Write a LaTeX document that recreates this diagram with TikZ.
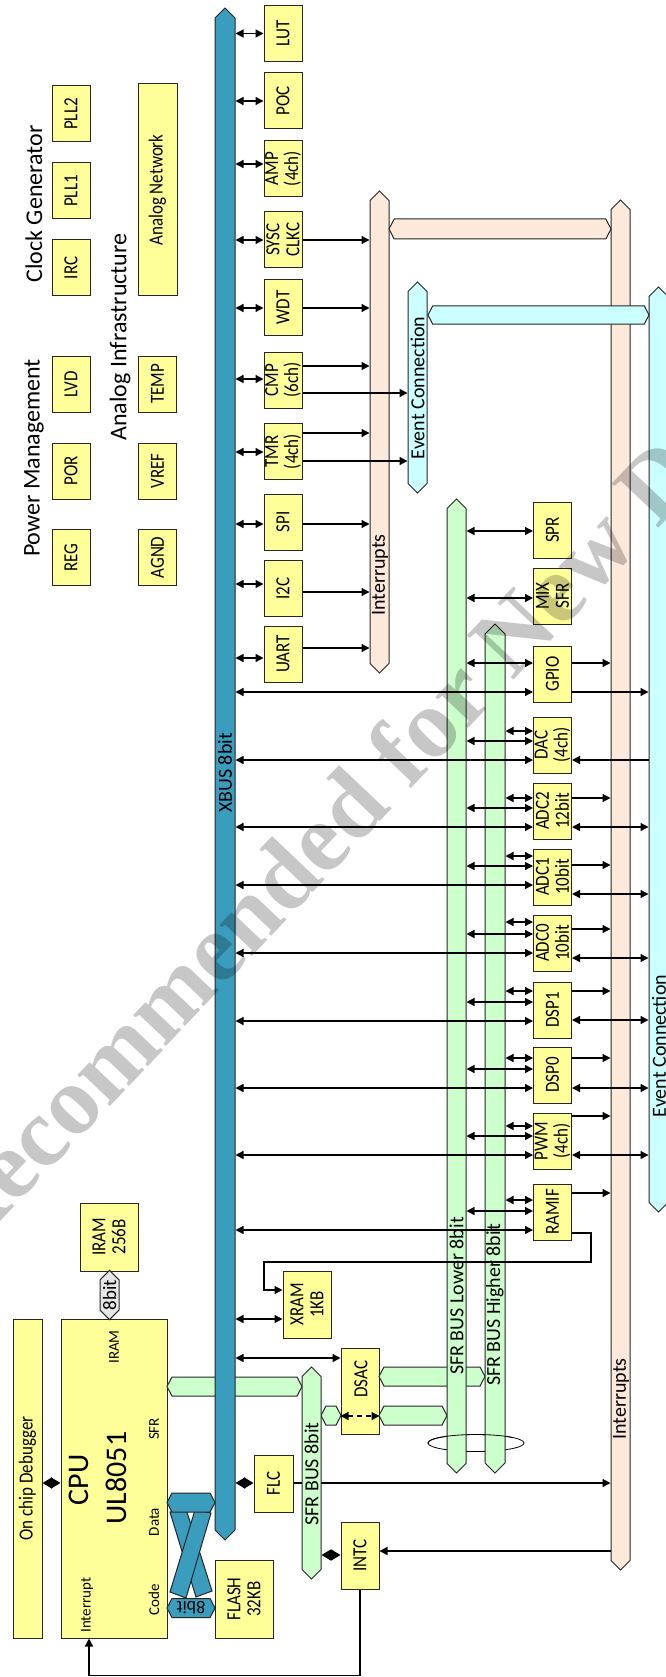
\documentclass[tikz,border=0pt]{standalone}
\usepackage{fontspec}
\setmainfont{Carlito}
\newfontfamily\boxfont{Carlito}[FakeStretch=0.85]
\newfontfamily\wmfont{Liberation Serif}
\usetikzlibrary{shapes.symbols,shapes.geometric,arrows.meta}
\definecolor{boxyellow}{HTML}{FFFF99}
\definecolor{xteal}{HTML}{3A9DBE}
\definecolor{busgreen}{HTML}{CCFFCC}
\definecolor{intpeach}{HTML}{FCE9DA}
\definecolor{evcyan}{HTML}{CCFFFF}
\definecolor{hexgray}{HTML}{E6E6E6}
\pgfdeclarelayer{back}
\pgfsetlayers{back,main}
\tikzset{
  blk/.style={draw=black!85, fill=boxyellow, line width=1pt, rotate=90,
    minimum width=56pt, minimum height=38pt, inner sep=0pt, align=center,
    font=\boxfont\fontsize{20}{20}\selectfont},
  vbus/.style={draw=black!85, line width=1pt, shape=signal, signal to=east and west,
    signal pointer angle=90, rotate=90, minimum height=19pt, inner sep=0pt,
    font=\fontsize{19}{20}\selectfont},
  hbus/.style={draw=black!85, line width=1pt, shape=signal, signal to=east and west,
    signal pointer angle=125, minimum height=19pt, inner sep=0pt,
    font=\fontsize{18}{20}\selectfont},
  buslbl/.style={rotate=90, inner sep=0pt, font=\fontsize{20}{22}\selectfont},
  headt/.style={rotate=90, inner sep=0pt, font=\fontsize{24}{26}\selectfont},
  smallt/.style={rotate=90, inner sep=0pt, font=\fontsize{15}{16}\selectfont},
  wire/.style={line width=1.3pt},
  arr/.style={wire, -{Triangle[length=8pt,width=8pt]}},
  dbl/.style={wire, {Triangle[length=8pt,width=8pt]}-{Triangle[length=8pt,width=8pt]}},
  dia/.style={wire, {Triangle[length=9.5pt,width=11pt]}-{Triangle[length=9.5pt,width=11pt]}},
}
\begin{document}
\begin{tikzpicture}[x=1pt,y=-1pt]
  \useasboundingbox (0,0) rectangle (665,1677);

  % Power, clock and analog blocks
  \node[headt] (clkhd) at (34,204) {Clock Generator};
  \node[headt] (pwrhd) at (34,458) {Power Management};
  \node[headt] (anahd) at (120,337) {Analog Infrastructure};
  \node[blk] (pll2) at (71,114) {PLL2};
  \node[blk] (pll1) at (71,191) {PLL1};
  \node[blk] (irc) at (71,268) {IRC};
  \node[blk] (lvd) at (71,384) {LVD};
  \node[blk] (por) at (71,471) {POR};
  \node[blk] (reg) at (71,557.5) {REG};
  \node[blk, minimum width=212pt, minimum height=39pt] (anet) at (157.5,190) {Analog Network};
  \node[blk] (temp) at (157.5,384) {TEMP};
  \node[blk] (vref) at (157.5,471) {VREF};
  \node[blk] (agnd) at (157.5,557.5) {AGND};

  % XBUS peripherals
  \node[blk] (lut) at (283,33.5) {LUT};
  \node[blk] (poc) at (283,101) {POC};
  \node[blk] (amp) at (283,168.5) {AMP\\(4ch)};
  \node[blk] (sysc) at (283,239.5) {SYSC\\CLKC};
  \node[blk] (wdt) at (283,307.5) {WDT};
  \node[blk] (cmp) at (283,380) {CMP\\(6ch)};
  \node[blk] (tmr) at (283,451.5) {TMR\\(4ch)};
  \node[blk] (spi) at (283,522) {SPI};
  \node[blk] (iic) at (283,588.5) {I2C};
  \node[blk] (uart) at (283,654) {UART};

  % SFR peripherals
  \node[blk] (spr) at (552.5,530) {SPR};
  \node[blk] (mix) at (552.5,596) {MIX\\SFR};
  \node[blk] (gpio) at (552.5,674) {GPIO};
  \node[blk] (dac) at (552.5,745) {DAC\\(4ch)};
  \node[blk] (adc2) at (552.5,811) {ADC2\\12bit};
  \node[blk] (adc1) at (552.5,877) {ADC1\\10bit};
  \node[blk] (adc0) at (552.5,943) {ADC0\\10bit};
  \node[blk] (dsp1) at (552.5,1010) {DSP1};
  \node[blk] (dsp0) at (552.5,1075) {DSP0};
  \node[blk] (pwm) at (552.5,1141) {PWM\\(4ch)};
  \node[blk] (ramif) at (552.5,1212) {RAMIF};

  % CPU corner
  \node[blk, minimum width=68pt, minimum height=58pt] (iram) at (109,1237) {IRAM\\256B};
  \node[blk, minimum width=67pt, minimum height=48pt] (xram) at (307,1304.5) {XRAM\\1KB};
  \node[blk, minimum width=86pt] (dsac) at (360,1391) {};
  \node[smallt, font=\boxfont\fontsize{20}{20}\selectfont] (dsactxt) at (361,1379) {DSAC};
  \node[blk, minimum width=57pt, minimum height=39pt] (flc) at (273.5,1483.5) {FLC};
  \node[blk, minimum width=67pt] (intc) at (360,1555.5) {INTC};
  \node[blk, minimum width=78pt, minimum height=58pt] (flash) at (244,1599) {FLASH\\32KB};
  \node[blk, minimum width=319pt, minimum height=29pt] (ocd) at (27.5,1478.5) {On chip Debugger};
  \node[blk, minimum width=319pt, minimum height=106pt] (cpu) at (114,1478.5) {};
  \node[rotate=90, inner sep=0pt, font=\fontsize{30}{32}\selectfont] (cpuname) at (79,1480) {CPU};
  \node[rotate=90, inner sep=0pt, font=\fontsize{30}{32}\selectfont] (cpucore) at (116,1478) {UL8051};
  \node[smallt] (lbiram) at (114,1347) {IRAM};
  \node[smallt] (lbsfr) at (154,1429) {SFR};
  \node[smallt] (lbdata) at (154,1522) {Data};
  \node[smallt] (lbcode) at (154,1600) {Code};
  \node[smallt] (lbint) at (87,1605) {Interrupt};

  % bundle ring, back half
  \begin{pgfonlayer}{back}
    \node[ellipse, draw, line width=0.8pt, minimum width=96pt, minimum height=17pt, inner sep=0pt] (bundle) at (476,1443) {};
  \end{pgfonlayer}

  % bands that pass under the buses
  \node[hbus, fill=busgreen, minimum width=135pt] (cpusfr) at (234.5,1386.5) {};
  \node[hbus, fill=busgreen, minimum width=106pt] (dsachi) at (432,1376.5) {};
  \node[hbus, fill=busgreen, minimum width=68pt] (dsaclo) at (413,1415.5) {};
  \node[hbus, fill=busgreen, minimum width=20pt] (sfrdsac) at (331,1415.5) {};

  % buses
  \node[vbus, fill=xteal, minimum width=1532pt, minimum height=20pt] (xbus) at (225,774) {};
  \node[vbus, fill=busgreen, minimum width=974pt] (sfrlo) at (456.5,986) {};
  \node[vbus, fill=busgreen, minimum width=849pt, minimum height=20pt] (sfrhi) at (495,1048.5) {};
  \node[vbus, fill=busgreen, minimum width=212pt] (sfr8) at (311.5,1473) {};
  \node[vbus, fill=intpeach, minimum width=482pt] (intl) at (379.5,432) {};
  \node[vbus, fill=evcyan, minimum width=211pt] (evl) at (417.5,387.5) {};
  \node[vbus, fill=intpeach, minimum width=1370pt] (intr) at (620.5,885) {};
  \node[vbus, fill=evcyan, minimum width=925pt] (evr) at (658.5,749.5) {};
  \node[hbus, fill=intpeach, minimum width=222pt, minimum height=20pt] (intband) at (500,229) {};
  \node[hbus, fill=evcyan, minimum width=221pt, minimum height=18pt] (evband) at (538.5,315) {};
  \node[vbus, fill=hexgray, minimum width=46pt] (irambus) at (109.5,1295) {8bit};

  % crossed code/data paths
  \filldraw[fill=xteal, draw=black!85, line width=1pt] (170,1512) -- (186,1509) -- (212,1591) -- (196,1597) -- cycle;
  \filldraw[fill=xteal, draw=black!85, line width=1pt] (195,1510) -- (211,1513) -- (186,1598) -- (170,1592) -- cycle;
  \node[hbus, fill=xteal, minimum width=48pt] (datahex) at (191,1502.5) {};
  \node[hbus, fill=xteal, minimum width=48pt, rotate=180] (codehex) at (191,1608) {8bit};

  % bus labels
  \node[buslbl] (xbuslbl) at (225,773) {XBUS 8bit};
  \node[buslbl] (intllbl) at (380,575) {Interrupts};
  \node[buslbl] (evllbl) at (417.5,388) {Event Connection};
  \node[buslbl] (intrlbl) at (621,1399) {Interrupts};
  \node[buslbl] (evrlbl) at (659,1046) {Event Connection};
  \node[buslbl] (sfrlolbl) at (456.5,1296) {SFR BUS Lower 8bit};
  \node[buslbl] (sfrhilbl) at (495,1305) {SFR BUS Higher 8bit};
  \node[buslbl] (sfr8lbl) at (311.5,1474) {SFR BUS 8bit};

  % bundle ring, front half
  \begin{scope}
    \clip ([xshift=-2pt]bundle.west) rectangle ([xshift=2pt,yshift=2pt]bundle.north east);
    \draw[line width=0.8pt] (bundle.center) ellipse [x radius=48pt, y radius=8.5pt];
  \end{scope}

  % XBUS links
  \draw[dbl] (xbus.south |- 0,33.5) -- (lut.north |- 0,33.5);
  \draw[dbl] (xbus.south |- 0,101) -- (poc.north |- 0,101);
  \draw[dbl] (xbus.south |- 0,164) -- (amp.north |- 0,164);
  \draw[dbl] (xbus.south |- 0,240) -- (sysc.north |- 0,240);
  \draw[dbl] (xbus.south |- 0,308) -- (wdt.north |- 0,308);
  \draw[dbl] (xbus.south |- 0,379) -- (cmp.north |- 0,379);
  \draw[dbl] (xbus.south |- 0,452) -- (tmr.north |- 0,452);
  \draw[dbl] (xbus.south |- 0,524) -- (spi.north |- 0,524);
  \draw[dbl] (xbus.south |- 0,584) -- (iic.north |- 0,584);
  \draw[dbl] (xbus.south |- 0,658) -- (uart.north |- 0,658);

  % interrupt and event outputs
  \draw[arr] (sysc.south |- 0,240) -- (intl.north |- 0,240);
  \draw[arr] (wdt.south |- 0,308) -- (intl.north |- 0,308);
  \draw[arr] (cmp.south |- 0,366) -- (intl.north |- 0,366);
  \draw[arr] (cmp.south |- 0,393) -- (evl.north |- 0,393);
  \draw[arr] (tmr.south |- 0,433) -- (intl.north |- 0,433);
  \draw[arr] (tmr.south |- 0,461) -- (evl.north |- 0,461);
  \draw[arr] (spi.south |- 0,524) -- (intl.north |- 0,524);
  \draw[arr] (iic.south |- 0,592) -- (intl.north |- 0,592);
  \draw[arr] (uart.south |- 0,648) -- (intl.north |- 0,648);

  % SFR side
  \draw[dbl] (sfrlo.south |- 0,531) -- (spr.north |- 0,531);
  \draw[dbl] (sfrlo.south |- 0,598) -- (mix.north |- 0,598);
  \draw[dbl] (sfrlo.south |- 0,663) -- (gpio.north |- 0,663);
  \draw[dbl] (xbus.south |- 0,692) -- (gpio.north |- 0,692);
  \draw[arr] (gpio.south |- 0,663) -- (intr.north |- 0,663);
  \draw[arr] (gpio.south |- 0,692) -- (evr.north |- 0,692);
  \draw[dbl] (sfrhi.south |- 0,731) -- (dac.north |- 0,731);
  \draw[dbl] (sfrlo.south |- 0,741) -- (dac.north |- 0,741);
  \draw[dbl] (xbus.south |- 0,760) -- (dac.north |- 0,760);
  \draw[arr] (evr.north |- 0,760) -- (dac.south |- 0,760);
  \foreach \bx/\ya/\yb/\yc/\yd/\ye in {adc2/798/808/827/798/827, adc1/856/866/885/865/894,
      adc0/922/934/953/929/958, dsp1/991/1002/1021/991/1020,
      dsp0/1058/1069/1088/1058/1088, pwm/1126/1136/1155/1116/1155}{
    \draw[dbl] (sfrhi.south |- 0,\ya) -- (\bx.north |- 0,\ya);
    \draw[dbl] (sfrlo.south |- 0,\yb) -- (\bx.north |- 0,\yb);
    \draw[dbl] (xbus.south |- 0,\yc) -- (\bx.north |- 0,\yc);
    \draw[arr] (\bx.south |- 0,\yd) -- (intr.north |- 0,\yd);
    \draw[dbl] (\bx.south |- 0,\ye) -- (evr.north |- 0,\ye);
  }
  \draw[dbl] (sfrhi.south |- 0,1200) -- (ramif.north |- 0,1200);
  \draw[dbl] (sfrlo.south |- 0,1211) -- (ramif.north |- 0,1211);
  \draw[dbl] (xbus.south |- 0,1230) -- (ramif.north |- 0,1230);
  \draw[arr] (ramif.south |- 0,1193) -- (intr.north |- 0,1193);
  \draw[arr] (ramif.south |- 0,1233) -| (591,1262) -| (264,1290) -- (xram.north |- 0,1290);

  % CPU corner links
  \draw[dbl] (xbus.south |- 0,1319) -- (xram.north |- 0,1319);
  \draw[dbl] (xbus.south |- 0,1358) -- (dsac.north |- 0,1358);
  \draw[wire, dashed, dash pattern=on 5pt off 4pt, {Triangle[length=8pt,width=8pt]}-{Triangle[length=8pt,width=8pt]}]
    (dsac.north |- 0,1416) -- (dsac.south |- 0,1416);
  \draw[dia] (xbus.south |- 0,1483) -- (flc.north |- 0,1483);
  \draw[dia] (ocd.south |- 0,1483) -- (cpu.north |- 0,1483);
  \draw[dia] (sfr8.south |- 0,1555) -- (intc.north |- 0,1555);
  \begin{pgfonlayer}{back}
    \draw[arr] (flc.south |- 0,1483) -- (intr.north |- 0,1483);
  \end{pgfonlayer}
  \draw[arr] (intr.north |- 0,1551) -- (intc.south |- 0,1551);
  \draw[arr] (intc.west) -- ++(0,86) -| (cpu.west -| 89,0);

  % watermark
  \node[rotate=46.5, inner sep=0pt, text=black, text opacity=0.22,
    font=\wmfont\bfseries\fontsize{98}{100}\selectfont] (wmark) at (331,839) {Not Recommended for New Design};
\end{tikzpicture}
\end{document}
